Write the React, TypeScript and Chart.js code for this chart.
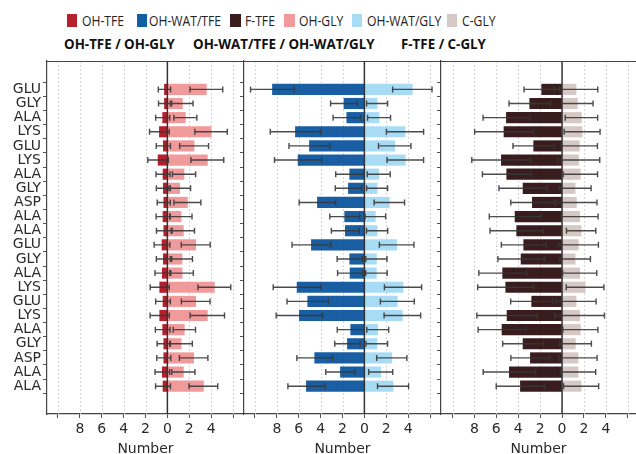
import React, { useEffect, useRef } from 'react';
import { Chart, registerables } from 'chart.js';
Chart.register(...registerables);

// ---------- data ----------
const residues = ['GLU', 'GLY', 'ALA', 'LYS', 'GLU', 'LYS', 'ALA', 'GLY', 'ASP', 'ALA', 'ALA', 'GLU', 'GLY', 'ALA', 'LYS', 'GLU', 'LYS', 'ALA', 'GLY', 'ASP', 'ALA', 'ALA'];
const xTickValues = [-10, -8, -6, -4, -2, 0, 2, 4, 6];
const xTickHidden = [-10, 6];

const ohTfe = [-0.27, -0.27, -0.43, -0.73, -0.37, -0.85, -0.4, -0.37, -0.33, -0.4, -0.33, -0.49, -0.37, -0.46, -0.7, -0.4, -0.7, -0.43, -0.33, -0.33, -0.46, -0.4];
const ohTfeErr = [0.56, 0.54, 0.64, 0.9, 0.65, 0.94, 0.64, 0.64, 0.6, 0.63, 0.67, 0.72, 0.64, 0.67, 0.87, 0.67, 0.88, 0.67, 0.61, 0.64, 0.67, 0.68];
const ohGly = [3.56, 1.37, 1.64, 3.99, 2.44, 3.65, 1.52, 1.13, 1.83, 1.25, 1.46, 2.59, 1.34, 1.34, 4.29, 2.59, 3.65, 1.55, 1.25, 2.4, 1.46, 3.29];
const ohGlyErr = [1.5, 0.97, 1.05, 1.48, 1.32, 1.5, 1.06, 0.99, 1.23, 1.0, 1.02, 1.32, 0.95, 1.03, 1.5, 1.31, 1.57, 1.02, 1.03, 1.3, 1.06, 1.31];

const ohWatTfe = [-8.4, -1.86, -1.61, -6.3, -5.02, -6.06, -1.34, -1.46, -4.29, -1.8, -1.74, -4.84, -1.34, -1.31, -6.15, -5.18, -5.94, -1.25, -1.55, -4.54, -2.19, -5.3];
const ohWatTfeErr = [2.0, 1.23, 1.25, 2.3, 1.87, 2.15, 1.28, 1.2, 1.67, 1.36, 1.28, 1.77, 1.15, 1.14, 2.18, 1.89, 2.12, 1.23, 1.16, 1.63, 1.34, 1.69];
const ohWatGly = [4.38, 1.16, 1.34, 3.71, 2.77, 3.74, 1.31, 1.16, 2.28, 1.0, 1.16, 2.95, 1.1, 1.1, 3.53, 3.01, 3.47, 1.22, 1.13, 2.5, 1.49, 2.62];
const ohWatGlyErr = [1.8, 0.96, 1.05, 1.7, 1.48, 1.67, 1.05, 0.96, 1.39, 0.94, 0.97, 1.58, 0.97, 0.98, 1.7, 1.55, 1.67, 1.0, 0.99, 1.38, 1.1, 1.42];

const fTfe = [-1.86, -2.95, -5.08, -5.3, -2.59, -5.54, -5.05, -3.56, -2.71, -4.29, -4.14, -3.5, -3.74, -5.42, -5.14, -2.77, -5.02, -5.48, -3.56, -2.89, -4.81, -3.8];
const fTfeErr = [1.61, 1.89, 2.13, 2.68, 1.89, 2.7, 2.22, 2.2, 1.97, 2.35, 2.43, 2.04, 2.12, 2.18, 2.56, 1.92, 2.76, 2.18, 1.86, 1.78, 2.39, 2.21];
const cGly = [1.28, 1.4, 1.77, 1.83, 1.58, 1.52, 1.67, 1.19, 1.31, 1.61, 1.74, 1.49, 1.19, 1.61, 2.1, 1.28, 1.61, 1.67, 1.22, 1.46, 1.46, 1.74];
const cGlyErr = [1.98, 1.43, 1.48, 1.64, 1.65, 1.92, 1.57, 1.46, 1.88, 1.68, 1.34, 1.83, 1.4, 1.56, 1.72, 1.83, 2.26, 1.6, 1.46, 1.74, 1.61, 1.6];

const seriesNames = ['OH-TFE', 'OH-WAT/TFE', 'F-TFE', 'OH-GLY', 'OH-WAT/GLY', 'C-GLY'];
const panelTitles = ['OH-TFE / OH-GLY', 'OH-WAT/TFE / OH-WAT/GLY', 'F-TFE / C-GLY'];
const xTitle = 'Number';

// ---------- styles ----------
const legendColors = ['#b5202c', '#0f5fa3', '#3a1c1e', '#f29a9b', '#a8dcf5', '#d6c8c5'];
const barColors = ['rgba(173,7,21,0.9)', 'rgba(0,77,153,0.9)', 'rgba(36,3,5,0.9)', 'rgba(240,143,144,0.9)', 'rgba(158,216,244,0.9)', 'rgba(209,194,191,0.9)'];
const legendBoxLeft = [66.7, 136.7, 230, 284, 351.7, 446.7];
const legendTextLeft = [82.3, 148.7, 245, 299, 366.7, 462.3];
const titleLeft = [64.3, 192.7, 401];

const FONT = 'DejaVu Sans';
const AXIS = '#444';

type PanelSpec = {
  left: number; width: number; yWidth: number; xMax: number; xMin: number; showLabels: boolean;
  neg: number[]; negErr: number[]; pos: number[]; posErr: number[]; negColor: string; posColor: string;
  negName: string; posName: string;
};

function makeOverlay(spec: PanelSpec) {
  return {
    id: 'overlay',
    beforeDatasetsDraw(chart: any) {
      const { ctx, chartArea: a, scales } = chart;
      const x = scales.x;
      ctx.save();
      ctx.strokeStyle = '#d4d4d4';
      ctx.lineWidth = 1;
      ctx.setLineDash([2, 2]);
      for (const v of xTickValues) {
        if (v === 0) continue;
        const px = Math.round(x.getPixelForValue(v)) + 0.5;
        ctx.beginPath();
        ctx.moveTo(px, a.top);
        ctx.lineTo(px, a.bottom);
        ctx.stroke();
      }
      ctx.restore();
    },
    afterDatasetsDraw(chart: any) {
      const { ctx, chartArea: a, scales } = chart;
      const x = scales.x;
      const y = scales.y;
      ctx.save();
      ctx.strokeStyle = '#333';
      ctx.lineWidth = 1.5;
      const zx = x.getPixelForValue(0);
      ctx.beginPath();
      ctx.moveTo(zx, a.top);
      ctx.lineTo(zx, a.bottom);
      ctx.stroke();
      ctx.strokeStyle = AXIS;
      ctx.lineWidth = 1.2;
      ctx.beginPath();
      ctx.moveTo(a.left, a.top + 0.5);
      ctx.lineTo(a.right, a.top + 0.5);
      ctx.stroke();
      ctx.strokeStyle = 'rgba(55,55,55,0.9)';
      ctx.lineWidth = 1.4;
      const drawErr = (vals: number[], errs: number[]) => {
        vals.forEach((v, i) => {
          const x1 = x.getPixelForValue(v - errs[i]);
          const x2 = x.getPixelForValue(v + errs[i]);
          const py = y.getPixelForValue(i);
          ctx.beginPath();
          ctx.moveTo(x1, py);
          ctx.lineTo(x2, py);
          ctx.moveTo(x1, py - 3);
          ctx.lineTo(x1, py + 3);
          ctx.moveTo(x2, py - 3);
          ctx.lineTo(x2, py + 3);
          ctx.stroke();
        });
      };
      drawErr(spec.neg, spec.negErr);
      drawErr(spec.pos, spec.posErr);
      ctx.restore();
    },
  };
}

function Panel({ spec }: { spec: PanelSpec }) {
  const ref = useRef<HTMLCanvasElement>(null);
  useEffect(() => {
    if (!ref.current) return;
    const chart = new Chart(ref.current, {
      type: 'bar',
      data: {
        datasets: [
          { label: spec.negName, data: spec.neg.map((v, i) => ({ x: v, y: i })), backgroundColor: spec.negColor, borderWidth: 0, grouped: false, barThickness: 10.5 } as any,
          { label: spec.posName, data: spec.pos.map((v, i) => ({ x: v, y: i })), backgroundColor: spec.posColor, borderWidth: 0, grouped: false, barThickness: 10.5 } as any,
        ],
      },
      options: {
        indexAxis: 'y',
        animation: false,
        responsive: false,
        maintainAspectRatio: false,
        events: [],
        layout: { padding: { top: 61, left: 0, right: 0, bottom: 0 } },
        plugins: { legend: { display: false }, tooltip: { enabled: false } },
        scales: {
          x: {
            type: 'linear',
            min: spec.xMin,
            max: spec.xMax,
            afterBuildTicks: (s: any) => { s.ticks = xTickValues.map((v) => ({ value: v })); },
            afterFit: (s: any) => { s.height = 40; },
            ticks: {
              autoSkip: false,
              maxRotation: 0,
              padding: 3,
              color: '#2a2a2a',
              font: { family: FONT, size: 14 },
              callback: (v: any) => (xTickHidden.includes(Number(v)) ? '' : String(Math.abs(Number(v)))),
            },
            grid: { drawOnChartArea: false, drawTicks: true, tickLength: 4, tickColor: '#555', tickWidth: 1 },
            border: { color: AXIS, width: 1.2 },
            title: { display: true, text: xTitle, color: '#2a2a2a', font: { family: FONT, size: 14, lineHeight: 0.6 }, padding: 0 },
          },
          y: {
            type: 'linear',
            reverse: true,
            min: -1.44,
            max: 22.4,
            afterBuildTicks: (s: any) => { s.ticks = residues.map((_, i) => ({ value: i })); },
            afterFit: (s: any) => { s.width = spec.yWidth; },
            ticks: {
              autoSkip: false,
              padding: 2,
              color: '#2a2a2a',
              font: { family: FONT, size: 14 },
              callback: (v: any) => (spec.showLabels ? residues[Number(v)] ?? '' : ''),
            },
            grid: { drawOnChartArea: false, drawTicks: true, tickLength: 4, tickColor: '#555', tickWidth: 1 },
            border: { color: AXIS, width: 1.2 },
          },
        },
      } as any,
      plugins: [makeOverlay(spec)],
    });
    return () => chart.destroy();
  }, []);
  return (
    <canvas
      ref={ref}
      width={spec.width}
      height={454}
      style={{ position: 'absolute', left: spec.left, top: 0, width: spec.width, height: 454 }}
    />
  );
}

const panels: PanelSpec[] = [
  { left: 0, width: 244, yWidth: 47, xMin: -11, xMax: 7, showLabels: true, neg: ohTfe, negErr: ohTfeErr, pos: ohGly, posErr: ohGlyErr, negColor: barColors[0], posColor: barColors[3], negName: seriesNames[0], posName: seriesNames[3] },
  { left: 240, width: 201, yWidth: 4, xMin: -11, xMax: 7, showLabels: false, neg: ohWatTfe, negErr: ohWatTfeErr, pos: ohWatGly, posErr: ohWatGlyErr, negColor: barColors[1], posColor: barColors[4], negName: seriesNames[1], posName: seriesNames[4] },
  { left: 437, width: 199, yWidth: 4, xMin: -11.05, xMax: 6.75, showLabels: false, neg: fTfe, negErr: fTfeErr, pos: cGly, posErr: cGlyErr, negColor: barColors[2], posColor: barColors[5], negName: seriesNames[2], posName: seriesNames[5] },
];

export default function App() {
  const textFont = '"Open Sans", "Noto Sans", sans-serif';
  return (
    <div style={{ position: 'absolute', left: 0, top: 0, width: 636, height: 454, overflow: 'hidden', background: '#fff' }}>
      {seriesNames.map((name, i) => (
        <React.Fragment key={name}>
          <div style={{ position: 'absolute', left: legendBoxLeft[i], top: 14, width: 10.7, height: 12.7, background: legendColors[i] }} />
          <div style={{ position: 'absolute', left: legendTextLeft[i], top: 13, font: `15px ${textFont}`, lineHeight: '15px', color: '#222', whiteSpace: 'nowrap', transform: 'scaleX(0.81)', transformOrigin: 'left top' }}>{name}</div>
        </React.Fragment>
      ))}
      {panelTitles.map((t, i) => (
        <div key={t} style={{ position: 'absolute', left: titleLeft[i], top: 36, font: `bold 15px ${textFont}`, lineHeight: '15px', color: '#111', whiteSpace: 'nowrap', transform: 'scaleX(0.89)', transformOrigin: 'left top' }}>{t}</div>
      ))}
      {panels.map((p, i) => (
        <Panel key={i} spec={p} />
      ))}
    </div>
  );
}
